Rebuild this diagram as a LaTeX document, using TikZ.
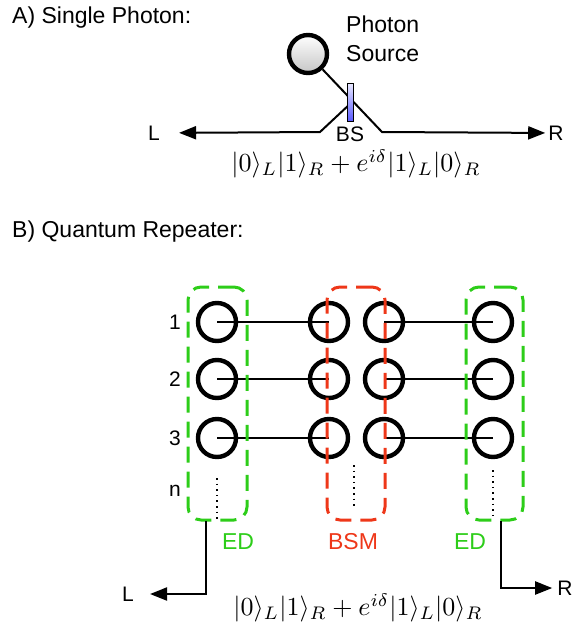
\documentclass[tikz,border=0pt]{standalone}
\usepackage{fontspec}
\newfontfamily\helv{Liberation Sans}
\usetikzlibrary{positioning,shapes,arrows.meta}
\definecolor{edgreen}{RGB}{45,205,25}
\definecolor{bsmred}{RGB}{238,55,25}

\begin{document}
\begin{tikzpicture}[x=1pt,y=-1pt,
  big/.style={font=\helv\fontsize{23}{29}\selectfont, inner sep=0pt},
  lbl/.style={font=\helv\fontsize{21}{25}\selectfont, inner sep=0pt},
  qubit/.style={draw, circle, line width=4.4pt, minimum size=38pt, inner sep=0pt},
  link/.style={line width=1.5pt},
  ellip/.style={line width=1.6pt, dash pattern=on 1.6pt off 4pt},
  grp/.style={draw, line width=3pt, rounded corners=13pt, dash pattern=on 16pt off 9pt,
    minimum height=233pt, inner sep=0pt},
  beam/.style={line width=2pt, -{Triangle[length=17pt,width=13pt]}}]
\useasboundingbox (0,0) rectangle (579,625);

% A) single photon
\node[big, anchor=west] (ta) at (12,18) {A) Single Photon:};
\node[draw, circle, line width=4.4pt, minimum size=38pt, top color=white, bottom color=gray!45] (src) at (308,54) {};
\node[big, anchor=west, align=left] (srclbl) at (346,39) {Photon\\Source};
\node[lbl] (la) at (154,133) {L};
\node[lbl] (ra) at (556,133) {R};
\coordinate (bsc) at (351,103);
\coordinate (kl) at (320,132);
\coordinate (kr) at (382,132);
\draw[beam, shorten >=19pt] (bsc) -- (kl) -- (la);
\draw[beam, shorten >=3pt] (src) -- (kr) -- (ra);
\node[draw, line width=1pt, minimum width=6pt, minimum height=38pt, inner sep=0pt,
  top color=blue!8, bottom color=blue!65] (bs) at (350,102) {};
\node[lbl, below=5pt of bs] (bslbl) {BS};
\node[scale=2.6] (eqa) at (356,164) {$|0\rangle_L|1\rangle_R+e^{i\delta}|1\rangle_L|0\rangle_R$};

% B) quantum repeater
\node[big, anchor=west] (tb) at (12,232) {B) Quantum Repeater:};
\node[lbl] (r1) at (175,322) {1};
\node[lbl] (r2) at (175,379) {2};
\node[lbl] (r3) at (175,438) {3};
\node[lbl] (rn) at (175,491) {n};

\node[qubit] (q11) at (217,322) {};
\node[qubit] (q12) at (329,322) {};
\node[qubit] (q13) at (384,322) {};
\node[qubit] (q14) at (493,322) {};
\node[qubit] (q21) at (217,379) {};
\node[qubit] (q22) at (329,379) {};
\node[qubit] (q23) at (384,379) {};
\node[qubit] (q24) at (493,379) {};
\node[qubit] (q31) at (217,438) {};
\node[qubit] (q32) at (329,438) {};
\node[qubit] (q33) at (384,438) {};
\node[qubit] (q34) at (493,438) {};
\draw[link] (q11.center) -- (q12.center) (q13.center) -- (q14.center)
  (q21.center) -- (q22.center) (q23.center) -- (q24.center)
  (q31.center) -- (q32.center) (q33.center) -- (q34.center);

\draw[ellip] (q31.center) ++(0,40) -- ++(0,43);
\draw[ellip] (q32.center) ++(25,27) -- ++(0,43);
\draw[ellip] (q34.center) ++(0,32) -- ++(0,50);

\node[grp, draw=edgreen, minimum width=59pt] (edl) at (217.5,403.5) {};
\node[grp, draw=bsmred, minimum width=58pt] (bsm) at (356,403.5) {};
\node[grp, draw=edgreen, minimum width=57pt] (edr) at (494.5,403.5) {};
\node[big, text=edgreen] (edllbl) at (238,542) {ED};
\node[big, text=bsmred] (bsmlbl) at (353,542) {BSM};
\node[big, text=edgreen] (edrlbl) at (470,542) {ED};

\node[lbl] (lb) at (128,594) {L};
\node[lbl] (rb) at (565,588) {R};
\coordinate (outl) at (206,521);
\coordinate (outr) at (501,521);
\draw[beam, shorten >=16pt] (outl) |- (lb);
\draw[beam, shorten >=5pt] (outr) |- (rb);
\node[scale=2.6] (eqb) at (358,608) {$|0\rangle_L|1\rangle_R+e^{i\delta}|1\rangle_L|0\rangle_R$};
\end{tikzpicture}
\end{document}
